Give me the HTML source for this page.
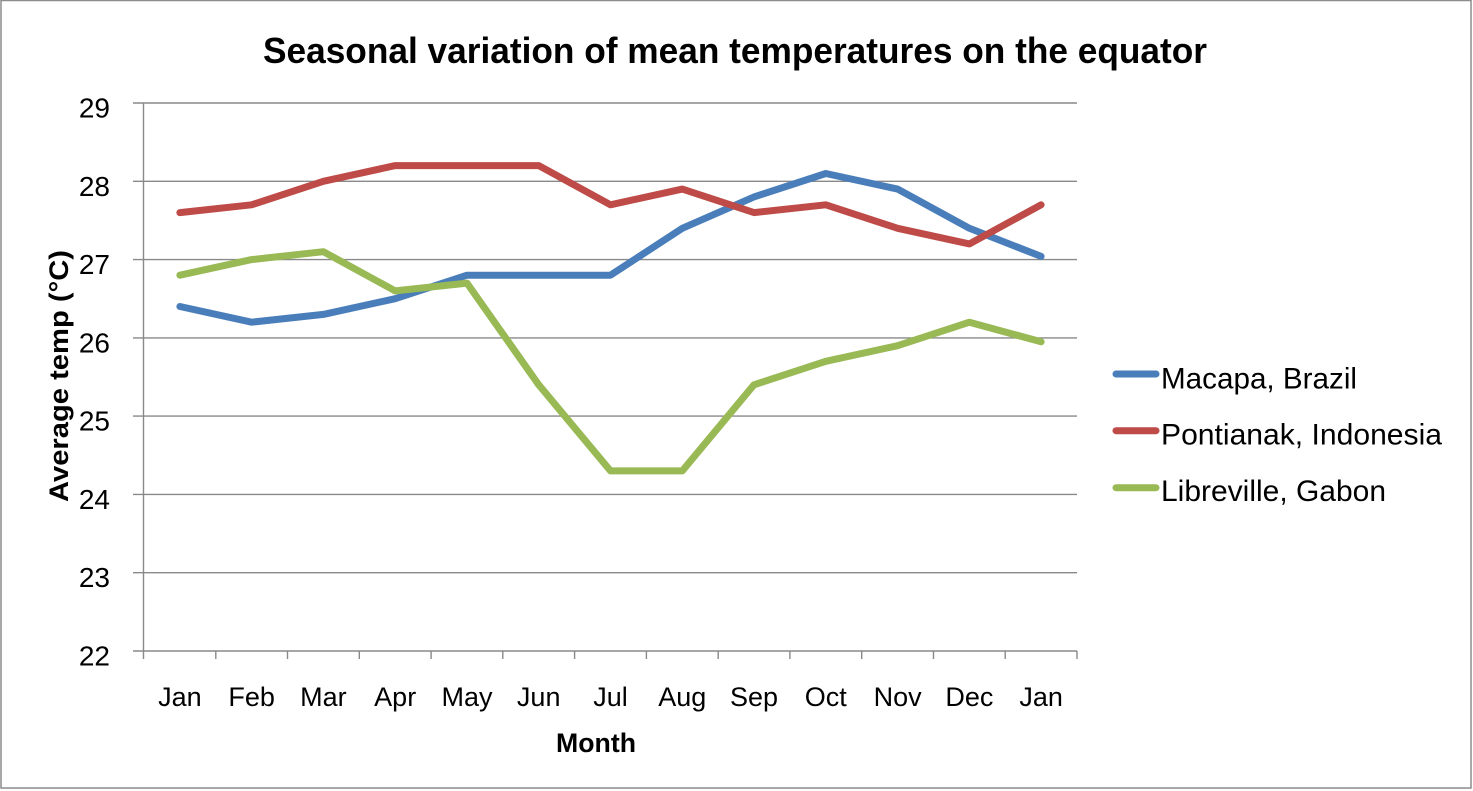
<!DOCTYPE html>
<html>
<head>
<meta charset="utf-8">
<style>
  html, body { margin:0; padding:0; background:#fff; }
  svg { display:block; }
  text { font-family: "Liberation Sans", Arial, sans-serif; fill:#000; }
</style>
</head>
<body>
<svg width="1473" height="791" viewBox="0 0 1473 791" xmlns="http://www.w3.org/2000/svg">
  <rect x="0" y="0" width="1473" height="791" fill="#fff"/>
  <!-- outer border -->
  <rect x="1" y="0.5" width="1470" height="787.5" fill="none" stroke="#8c8c8c" stroke-width="1.5"/>

  <!-- title -->
  <text x="263" y="63" font-size="36" font-weight="bold" textLength="944" lengthAdjust="spacingAndGlyphs">Seasonal variation of mean temperatures on the equator</text>

  <!-- gridlines -->
  <g stroke="#898989" stroke-width="1.4">
    <line x1="133" y1="103" x2="1077" y2="103"/>
    <line x1="133" y1="181.3" x2="1077" y2="181.3"/>
    <line x1="133" y1="259.6" x2="1077" y2="259.6"/>
    <line x1="133" y1="337.9" x2="1077" y2="337.9"/>
    <line x1="133" y1="416.1" x2="1077" y2="416.1"/>
    <line x1="133" y1="494.4" x2="1077" y2="494.4"/>
    <line x1="133" y1="572.7" x2="1077" y2="572.7"/>
    <line x1="133" y1="651" x2="1077" y2="651"/>
    <!-- y axis -->
    <line x1="143.5" y1="103" x2="143.5" y2="659"/>
    <!-- x ticks -->
    <line x1="215.8" y1="651" x2="215.8" y2="659"/>
    <line x1="287.5" y1="651" x2="287.5" y2="659"/>
    <line x1="359.3" y1="651" x2="359.3" y2="659"/>
    <line x1="431.1" y1="651" x2="431.1" y2="659"/>
    <line x1="502.8" y1="651" x2="502.8" y2="659"/>
    <line x1="574.6" y1="651" x2="574.6" y2="659"/>
    <line x1="646.4" y1="651" x2="646.4" y2="659"/>
    <line x1="718.2" y1="651" x2="718.2" y2="659"/>
    <line x1="789.9" y1="651" x2="789.9" y2="659"/>
    <line x1="861.7" y1="651" x2="861.7" y2="659"/>
    <line x1="933.5" y1="651" x2="933.5" y2="659"/>
    <line x1="1005.2" y1="651" x2="1005.2" y2="659"/>
    <line x1="1077" y1="651" x2="1077" y2="659"/>
  </g>

  <!-- y tick labels -->
  <g font-size="28" text-anchor="end">
    <text x="110" y="117.5">29</text>
    <text x="110" y="195.8">28</text>
    <text x="110" y="274.1">27</text>
    <text x="110" y="352.4">26</text>
    <text x="110" y="430.6">25</text>
    <text x="110" y="508.9">24</text>
    <text x="110" y="587.2">23</text>
    <text x="110" y="665.5">22</text>
  </g>

  <!-- x tick labels -->
  <g font-size="27" text-anchor="middle">
    <text x="179.9" y="706">Jan</text>
    <text x="251.6" y="706">Feb</text>
    <text x="323.4" y="706">Mar</text>
    <text x="395.2" y="706">Apr</text>
    <text x="467.0" y="706">May</text>
    <text x="538.7" y="706">Jun</text>
    <text x="610.5" y="706">Jul</text>
    <text x="682.3" y="706">Aug</text>
    <text x="754.0" y="706">Sep</text>
    <text x="825.8" y="706">Oct</text>
    <text x="897.6" y="706">Nov</text>
    <text x="969.4" y="706">Dec</text>
    <text x="1041.1" y="706">Jan</text>
  </g>

  <!-- axis titles -->
  <text x="556" y="752" font-size="27" font-weight="bold" textLength="80" lengthAdjust="spacingAndGlyphs">Month</text>
  <text transform="translate(68,376) rotate(-90)" x="0" y="0" font-size="27" font-weight="bold" text-anchor="middle" textLength="252" lengthAdjust="spacingAndGlyphs">Average temp (°C)</text>

  <!-- series -->
  <g fill="none" stroke-width="7" stroke-linejoin="round" stroke-linecap="round">
    <polyline stroke="#4A7EBB" points="179.9,306.5 251.6,322.2 323.4,314.4 395.2,298.7 467.0,275.2 538.7,275.2 610.5,275.2 682.3,228.3 754.0,196.9 825.8,173.5 897.6,189.1 969.4,228.3 1041.1,256.4"/>
    <polyline stroke="#BE4B48" points="179.9,212.6 251.6,204.8 323.4,181.3 395.2,165.6 467.0,165.6 538.7,165.6 610.5,204.8 682.3,189.1 754.0,212.6 825.8,204.8 897.6,228.3 969.4,243.9 1041.1,204.8"/>
    <polyline stroke="#98B954" points="179.9,275.2 251.6,259.6 323.4,251.7 395.2,290.9 467.0,283.1 538.7,384.8 610.5,470.9 682.3,470.9 754.0,384.8 825.8,361.3 897.6,345.7 969.4,322.2 1041.1,341.8"/>
  </g>

  <!-- legend -->
  <g stroke-width="7" stroke-linecap="round">
    <line x1="1116" y1="374" x2="1156" y2="374" stroke="#4A7EBB"/>
    <line x1="1116" y1="430.7" x2="1156" y2="430.7" stroke="#BE4B48"/>
    <line x1="1116" y1="487.7" x2="1156" y2="487.7" stroke="#98B954"/>
  </g>
  <g font-size="29.5">
    <text x="1161" y="388.5" textLength="196" lengthAdjust="spacingAndGlyphs">Macapa, Brazil</text>
    <text x="1161" y="444.5" textLength="281" lengthAdjust="spacingAndGlyphs">Pontianak, Indonesia</text>
    <text x="1161" y="501" textLength="225" lengthAdjust="spacingAndGlyphs">Libreville, Gabon</text>
  </g>
</svg>
</body>
</html>
